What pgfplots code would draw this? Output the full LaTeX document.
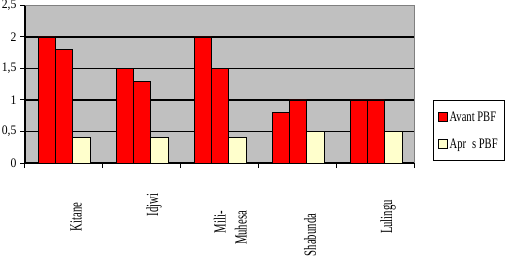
\documentclass[border=0pt]{standalone}
\usepackage{fontspec}
\setmainfont{Liberation Serif}
\newfontfamily\xlabfont{Liberation Serif}[FakeStretch=0.63]
\newfontfamily\legfont{Liberation Serif}[FakeStretch=0.73]
\newfontfamily\yfont{Liberation Serif}[FakeStretch=0.9]
\usepackage{pgfplots}
\pgfplotsset{compat=1.18}
\definecolor{plotbg}{HTML}{C0C0C0}
\definecolor{framegray}{HTML}{808080}
\definecolor{lightyel}{HTML}{FFFFCC}
\begin{document}
\begin{tikzpicture}
\useasboundingbox (0,0) rectangle (505bp,256bp);
\begin{axis}[
  at={(25bp,93bp)}, anchor=south west,
  scale only axis, width=390bp, height=157.5bp,
  xmin=-0.5, xmax=4.5, ymin=0, ymax=2.5,
  axis background/.style={fill=plotbg},
  axis x line*=bottom, axis y line*=left,
  axis line style={black, line width=1.2bp},
  ybar=0pt,
  ytick={0,0.5,1,1.5,2},
  yticklabels={0,0{,}5,1,1{,}5,2},
  extra y ticks={2.5}, extra y tick labels={2{,}5},
  extra y tick style={grid=none},
  ymajorgrids, major grid style={black, line width=1.2bp},
  tick align=outside, major tick length=5bp,
  tick style={black, line width=1bp},
  yticklabel style={font=\yfont\fontsize{13bp}{15bp}\selectfont},
  xtick={-0.5,0.5,1.5,2.5,3.5,4.5},
  xticklabels={,,,,,},
  extra x ticks={0,1,2,3,4},
  extra x tick labels={Kitane, \hspace*{24bp}Idjwi, {\begin{tabular}{@{}r@{}}Mili-\\Muhesa\end{tabular}\hspace*{22bp}}, Shabunda\hspace*{36bp}, Lulingu},
  extra x tick style={major tick length=0pt,
    xticklabel style={font=\xlabfont\fontsize{17bp}{21bp}\selectfont, xshift=12bp, yshift=-54bp, rotate=90, anchor=center}},
  legend style={at={(1.046,0.399)}, anchor=north west, draw=black, line width=0.8bp, fill=white,
    font=\legfont\fontsize{14.5bp}{16bp}\selectfont, inner xsep=4.5bp, inner ysep=9bp, row sep=12bp},
  legend cell align=left,
]
\addplot[fill=red, draw=black, line width=0.8bp, bar width=17.3bp, bar shift=-17.3bp,
  legend image code/.code={\draw[fill=red,draw=black,line width=0.8bp] (0bp,-4.5bp) rectangle (9bp,4.5bp);}]
  coordinates {(0,2) (1,1.5) (2,2) (3,0.8) (4,1)};
\addlegendentry{Avant PBF}
\addplot[fill=red, draw=black, line width=0.8bp, bar width=17.3bp, bar shift=0bp, forget plot]
  coordinates {(0,1.8) (1,1.3) (2,1.5) (3,1) (4,1)};
\addplot[fill=lightyel, draw=black, line width=0.8bp, bar width=17.3bp, bar shift=17.3bp,
  legend image code/.code={\draw[fill=lightyel,draw=black,line width=0.8bp] (0bp,-4.5bp) rectangle (9bp,4.5bp);}]
  coordinates {(0,0.4) (1,0.4) (2,0.4) (3,0.5) (4,0.5)};
\addlegendentry{Apr\hspace{6bp}s PBF}
\draw[framegray, line width=1bp] (rel axis cs:0,1) -- (rel axis cs:1,1) -- (rel axis cs:1,0);
\end{axis}
\end{tikzpicture}
\end{document}
